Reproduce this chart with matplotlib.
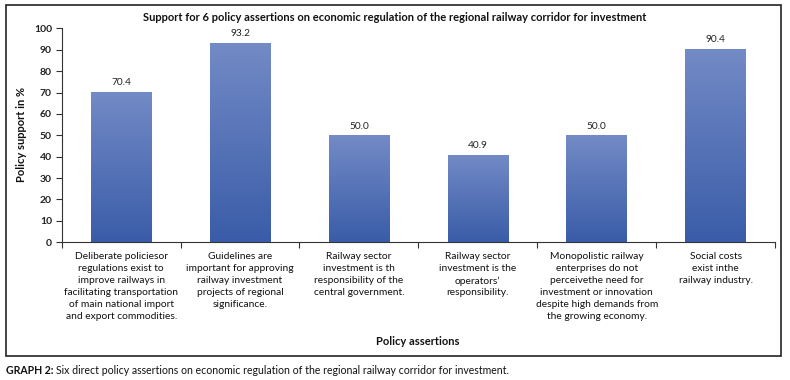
import matplotlib
matplotlib.use("Agg")
import matplotlib.pyplot as plt
import numpy as np
from matplotlib.patches import Rectangle
from matplotlib.colors import LinearSegmentedColormap

categories = [
    "Deliberate policiesor\nregulations exist to\nimprove railways in\nfacilitating transportation\nof main national import\nand export commodities.",
    "Guidelines are\nimportant for approving\nrailway investment\nprojects of regional\nsignificance.",
    "Railway sector\ninvestment is th\nresponsibility of the\ncentral government.",
    "Railway sector\ninvestment is the\noperators\u2019\nresponsibility.",
    "Monopolistic railway\nenterprises do not\nperceivethe need for\ninvestment or innovation\ndespite high demands from\nthe growing economy.",
    "Social costs\nexist inthe\nrailway industry.",
]
values = [70.4, 93.2, 50.0, 40.9, 50.0, 90.4]
yticks = [0, 10, 20, 30, 40, 50, 60, 70, 80, 90, 100]

plt.rcParams['font.family'] = ['Lato', 'DejaVu Sans']

fig = plt.figure(figsize=(7.9, 3.8), dpi=100)
ax = fig.add_axes([0.0781, 0.3624, 0.903, 0.5631])

x = np.arange(len(values))
bars = ax.bar(x, values, width=0.51, color='#5472b6', zorder=2)
cmap = LinearSegmentedColormap.from_list('g', ['#3a5ca8', '#738bc6'])
grad = np.linspace(0, 1, 256).reshape(-1, 1)
for b in bars:
    bx, bw, bh = b.get_x(), b.get_width(), b.get_height()
    im = ax.imshow(grad, cmap=cmap, extent=[bx, bx + bw, 0, bh], origin='lower',
                   aspect='auto', zorder=3)
    im.set_clip_path(b)
    ax.text(bx + bw / 2, bh + 2.2, f"{bh:.1f}", ha='center', va='bottom', fontsize=7.3, color='#222222')

ax.set_xlim(-0.5, len(values) - 0.5)
ax.set_ylim(0, 100)
ax.set_yticks(yticks)
ax.set_yticklabels([str(t) for t in yticks], fontsize=7.5, fontweight='bold', color='#222222')
ax.set_xticks(x)
ax.set_xticklabels(categories, fontsize=7.4, linespacing=1.42, va='top', color='#111111')
ax.tick_params(axis='x', which='major', length=0, pad=7)
ax.set_xticks(np.arange(-0.5, len(values), 1), minor=True)
ax.tick_params(axis='x', which='minor', length=4, width=0.8, direction='out', color='#333333')
ax.tick_params(axis='y', length=4, width=0.8, color='#333333', pad=3)
for s in ['top', 'right']:
    ax.spines[s].set_visible(False)
for s in ['left', 'bottom']:
    ax.spines[s].set_color('#333333')
    ax.spines[s].set_linewidth(0.8)

fig.text(0.5, 0.955, "Support for 6 policy assertions on economic regulation of the regional railway corridor for investment",
         ha='center', va='center', fontsize=8, fontweight='bold', color='#111111')
fig.text(0.027, 0.645, "Policy support in %", rotation=90, ha='center', va='center',
         fontsize=8, fontweight='bold', color='#111111')
fig.text(0.529, 0.102, "Policy assertions", ha='center', va='center', fontsize=8, fontweight='bold', color='#111111')

fig.patches.append(Rectangle((0.007, 0.063), 0.981, 0.924, transform=fig.transFigure,
                             fill=False, edgecolor='#222222', linewidth=1.2))
t1 = fig.text(0.007, 0.026, "GRAPH 2:", ha='left', va='center', fontsize=7.6, fontweight='bold', color='#111111')
fig.canvas.draw()
bb = t1.get_window_extent()
fig.text(bb.x1 / fig.bbox.width + 0.004, 0.026,
         "Six direct policy assertions on economic regulation of the regional railway corridor for investment.",
         ha='left', va='center', fontsize=7.6, color='#111111')

fig.savefig("out.png", dpi=100)
